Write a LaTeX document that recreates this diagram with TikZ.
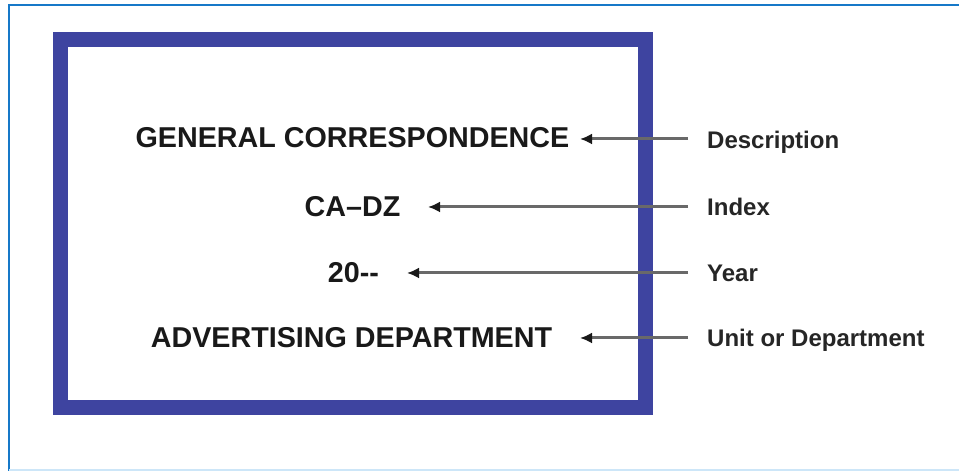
\documentclass[tikz,border=0pt]{standalone}
\usepackage{fontspec}
\setmainfont{Liberation Sans}
\usetikzlibrary{arrows.meta}
\definecolor{framecol}{RGB}{62,68,160}
\definecolor{edgecol}{RGB}{22,120,200}
\definecolor{edgelight}{RGB}{205,230,248}
\definecolor{arrcol}{RGB}{105,105,105}
\begin{document}
\begin{tikzpicture}[x=1pt,y=1pt,
  lefttxt/.style={inner sep=0pt,anchor=base,font=\fontsize{28.7}{30}\selectfont\bfseries,text=black!90},
  righttxt/.style={inner sep=0pt,anchor=base west,font=\fontsize{24}{26}\selectfont\bfseries,text=black!85},
  pointer/.style={draw=arrcol,line width=3pt,-{Latex[length=12pt,width=11pt,color=black!90]}}]
\useasboundingbox (0,0) rectangle (959,471);
\fill[white] (0,0) rectangle (959,471);
% outer edges
\draw[edgecol,line width=2.5pt] (9,0) -- (9,466) -- (959,466);
\draw[edgelight,line width=2pt] (9,1) -- (959,1);
% frame
\draw[framecol,line width=15pt] (60.5,431.5) rectangle (645,63.5);
% left texts
\node[lefttxt] (gen) at (352.5,323) {GENERAL CORRESPONDENCE};
\node[lefttxt] (idx) at (352.5,254) {CA–DZ};
\node[lefttxt] (yr) at (353.5,188) {20-{}-};
\node[lefttxt] (adv) at (351.5,123) {ADVERTISING DEPARTMENT};
% right labels
\node[righttxt] (ldesc) at (707,322.4) {Description};
\node[righttxt] (lidx) at (707,255.4) {Index};
\node[righttxt] (lyr) at (707,189.4) {Year};
\node[righttxt] (lunit) at (707,124.4) {Unit or Department};
% arrow ends
\coordinate (s1) at (688,332); \coordinate (t1) at (580,332);
\coordinate (s2) at (688,264); \coordinate (t2) at (428,264);
\coordinate (s3) at (688,198); \coordinate (t3) at (407,198);
\coordinate (s4) at (688,133); \coordinate (t4) at (580,133);
\draw[pointer] (s1) -- (t1);
\draw[pointer] (s2) -- (t2);
\draw[pointer] (s3) -- (t3);
\draw[pointer] (s4) -- (t4);
\end{tikzpicture}
\end{document}
